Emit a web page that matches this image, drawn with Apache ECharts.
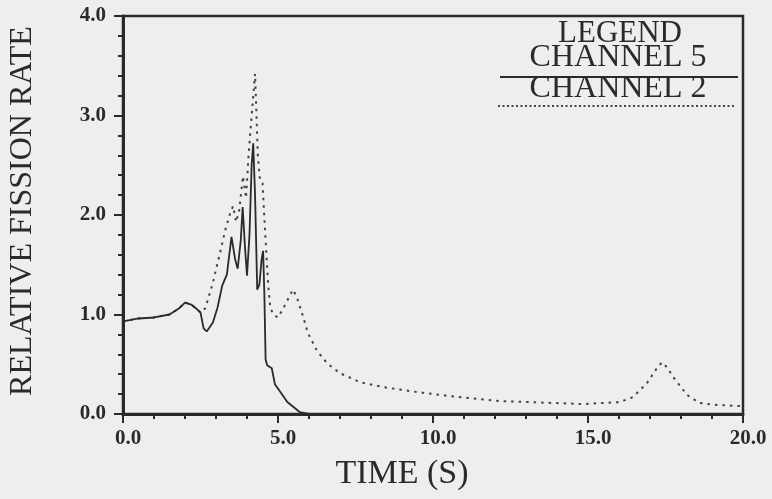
<!DOCTYPE html>
<html><head><meta charset="utf-8">
<script src="https://cdn.jsdelivr.net/npm/echarts@6/dist/echarts.min.js"></script>
<style>html,body{margin:0;padding:0;background:#eeeeec;}#c{width:772px;height:499px;}</style>
</head><body><div id="c"></div>
<script>
const xTitle = 'TIME (S)';
const yTitle = 'RELATIVE FISSION RATE';
const legendTitle = 'LEGEND';
const seriesNames = ['CHANNEL 5', 'CHANNEL 2'];

const t5 = [0, 0.5, 1.0, 1.5, 1.8, 2.0, 2.2, 2.4, 2.5, 2.6, 2.7, 2.9, 3.05, 3.2, 3.35, 3.5, 3.62, 3.7, 3.8, 3.86, 3.93, 4.0, 4.08, 4.15, 4.2, 4.26, 4.33, 4.4, 4.47, 4.52, 4.56, 4.6, 4.65, 4.8, 4.9, 5.1, 5.3, 5.5, 5.7, 6.0, 7.0, 20.0];
const v5 = [0.93, 0.96, 0.97, 1.0, 1.06, 1.12, 1.10, 1.05, 1.02, 0.86, 0.83, 0.92, 1.07, 1.29, 1.40, 1.78, 1.55, 1.46, 1.75, 2.08, 1.70, 1.39, 1.80, 2.50, 2.72, 2.20, 1.25, 1.30, 1.55, 1.64, 1.20, 0.55, 0.49, 0.46, 0.30, 0.21, 0.12, 0.07, 0.02, 0.0, 0.0, 0.0];

const t2 = [0, 0.5, 1.0, 1.5, 1.8, 2.0, 2.2, 2.4, 2.5, 2.65, 2.75, 2.9, 3.13, 3.3, 3.45, 3.55, 3.65, 3.75, 3.87, 3.97, 4.05, 4.15, 4.26, 4.35, 4.42, 4.5, 4.56, 4.62, 4.68, 4.75, 4.85, 5.0, 5.2, 5.48, 5.6, 5.77, 5.97, 6.25, 6.58, 7.0, 7.65, 8.4, 9.5, 10.55, 12.16, 13.5, 14.84, 16.03, 16.45, 16.9, 17.2, 17.38, 17.55, 17.75, 18.2, 18.6, 19.2, 19.9];
const v2 = [0.93, 0.96, 0.97, 1.0, 1.06, 1.12, 1.10, 1.05, 1.02, 1.06, 1.16, 1.32, 1.62, 1.85, 2.01, 2.09, 1.93, 2.05, 2.39, 2.17, 2.60, 3.00, 3.42, 2.60, 2.35, 2.32, 1.97, 1.64, 1.31, 1.07, 1.00, 0.97, 1.08, 1.25, 1.18, 1.02, 0.81, 0.64, 0.51, 0.41, 0.32, 0.27, 0.22, 0.18, 0.13, 0.115, 0.10, 0.12, 0.17, 0.31, 0.45, 0.52, 0.47, 0.37, 0.19, 0.11, 0.09, 0.08];

const ink = '#2a2a2a';
const font = '"Liberation Serif", "DejaVu Serif", serif';

const chart = echarts.init(document.getElementById('c'));
chart.setOption({
  backgroundColor: '#eeeeec',
  animation: false,
  grid: { left: 123, right: 29, top: 16, bottom: 85, show: true, borderColor: ink, borderWidth: 2.5, backgroundColor: 'transparent' },
  xAxis: {
    type: 'value', min: 0, max: 20, interval: 5,
    axisLine: { lineStyle: { color: ink, width: 3 } },
    axisTick: { inside: false, length: 9, lineStyle: { color: ink, width: 2 } },
    minorTick: { show: true, splitNumber: 5, length: 5, lineStyle: { color: ink, width: 2 } },
    splitLine: { show: false },
    axisLabel: { color: ink, fontFamily: font, fontSize: 21, fontWeight: 'bold', margin: 14, padding: [0, 0, 0, 10], formatter: v => v.toFixed(1) }
  },
  yAxis: {
    type: 'value', min: 0, max: 4, interval: 1,
    axisLine: { lineStyle: { color: ink, width: 3 } },
    axisTick: { inside: false, length: 9, lineStyle: { color: ink, width: 2 } },
    minorTick: { show: true, splitNumber: 5, length: 5, lineStyle: { color: ink, width: 2 } },
    splitLine: { show: false },
    axisLabel: { color: ink, fontFamily: font, fontSize: 21, fontWeight: 'bold', margin: 17, formatter: v => v.toFixed(1) }
  },
  series: [
    { name: seriesNames[0], type: 'line', showSymbol: false, z: 3,
      data: t5.map((t, i) => [t, v5[i]]),
      lineStyle: { color: ink, width: 1.8 } },
    { name: seriesNames[1], type: 'line', showSymbol: false, z: 2,
      data: t2.map((t, i) => [t, v2[i]]),
      lineStyle: { color: '#444', width: 2, type: [2.5, 5] } }
  ],
  graphic: [
    { type: 'text', x: 402, y: 474, style: { text: xTitle, font: '34px ' + font, fill: ink, align: 'center', verticalAlign: 'middle' } },
    { type: 'text', x: 23, y: 211, rotation: Math.PI / 2, style: { text: yTitle, font: '32px ' + font, fill: ink, align: 'center', verticalAlign: 'middle' } },
    { type: 'text', x: 620, y: 34, style: { text: legendTitle, font: '31px ' + font, fill: ink, align: 'center', verticalAlign: 'middle' } },
    { type: 'text', x: 618, y: 58, style: { text: seriesNames[0], font: '32px ' + font, fill: ink, align: 'center', verticalAlign: 'middle' } },
    { type: 'line', shape: { x1: 500, y1: 77, x2: 738, y2: 77 }, style: { stroke: ink, lineWidth: 2 } },
    { type: 'text', x: 618, y: 89, style: { text: seriesNames[1], font: '32px ' + font, fill: ink, align: 'center', verticalAlign: 'middle' } },
    { type: 'line', shape: { x1: 498, y1: 106, x2: 736, y2: 106 }, style: { stroke: '#444', lineWidth: 1.8, lineDash: [2, 2.5] } }
  ]
});
</script></body></html>
